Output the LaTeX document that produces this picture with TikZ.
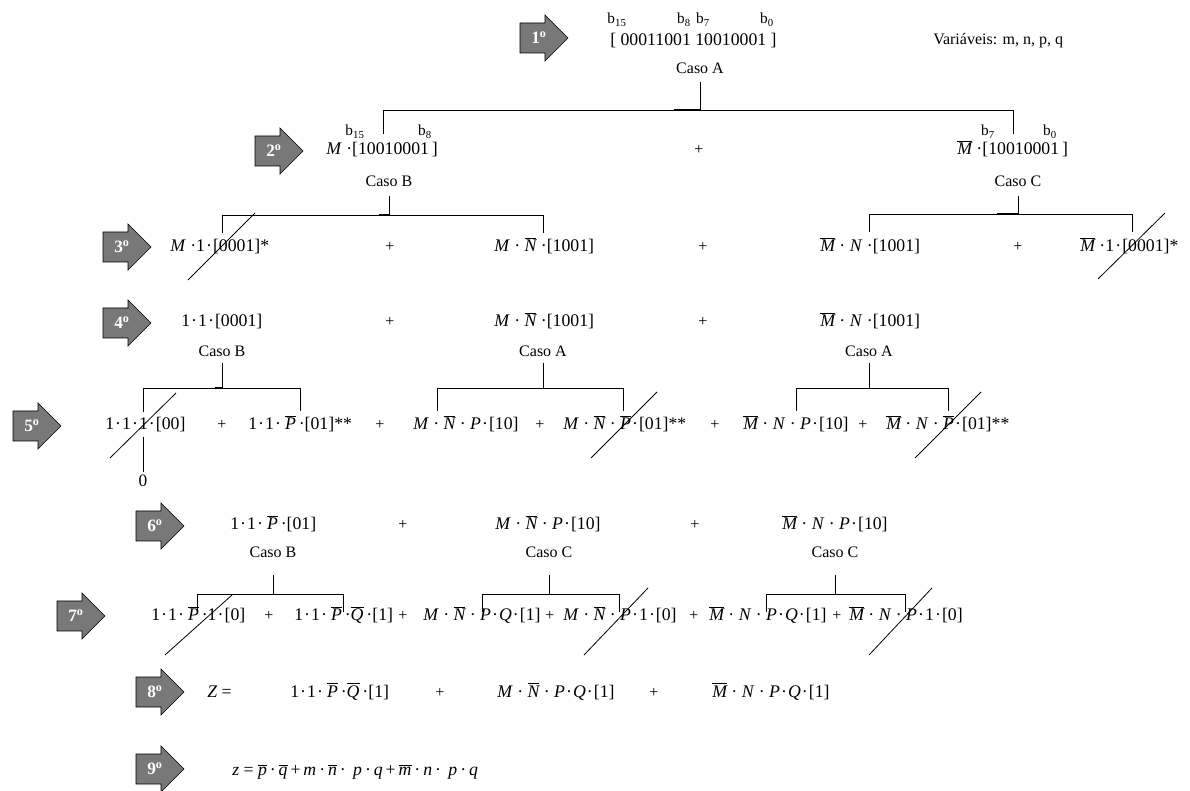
\documentclass[tikz,border=0pt]{standalone}
\usepackage{fontspec}
\setmainfont{Liberation Serif}
\definecolor{arrowgray}{RGB}{120,120,120}
\newcommand{\va}[1]{\textit{#1}}
\newcommand{\ob}[1]{$\overline{\hbox{\itshape #1}}$}
\newcommand{\td}{\kern0.06em·\kern0.06em}
\newcommand{\stepar}[4]{%
  \filldraw[arrowgray, draw=black, line width=0.5pt]
    (#2,#3-15) -- (#2+25,#3-15) -- (#2+25,#3-23) -- (#2+48,#3) -- (#2+25,#3+23) -- (#2+25,#3+15) -- (#2,#3+15) -- cycle;
  \node[steplabel] (#1) at (#2+19,#3) {#4\textsuperscript{o}};}
\tikzset{
  steplabel/.style={inner sep=0, text=white, font=\fontsize{13}{15}\selectfont\bfseries},
  ex/.style={inner sep=0, anchor=base west, font=\fontsize{13.3}{15}\selectfont},
  pl/.style={inner sep=0, anchor=base, font=\fontsize{12}{14}\selectfont},
  caso/.style={inner sep=0, anchor=base, font=\fontsize{12}{14}\selectfont},
  bit/.style={inner sep=0, anchor=base, font=\fontsize{11.5}{13}\selectfont},
  br/.style={line width=0.6pt, black},
  thickbr/.style={line width=1pt, black},
  cut/.style={line width=0.6pt, black}
}
\begin{document}
\begin{tikzpicture}[x=0.75pt, y=-0.75pt]
\useasboundingbox (0,0) rectangle (1190,791);
% step arrows
\stepar{s1}{520}{38}{1}
\stepar{s2}{255}{151}{2}
\stepar{s3}{103}{247}{3}
\stepar{s4}{103}{323}{4}
\stepar{s5}{13}{426}{5}
\stepar{s6}{136}{526}{6}
\stepar{s7}{57}{616}{7}
\stepar{s8}{136}{692}{8}
\stepar{s9}{136}{769}{9}

% row 1
\node[bit] (b15a) at (617,24) {b\textsubscript{15}};
\node[bit] (b8a) at (684,24) {b\textsubscript{8}};
\node[bit] (b7a) at (703,24) {b\textsubscript{7}};
\node[bit] (b0a) at (767,24) {b\textsubscript{0}};
\node[ex] (r1) at (610,46) {[ 00011001 10010001 ]};
\node[ex, font=\fontsize{12}{14}\selectfont] (vars) at (933,45) {Variáveis: m, n, p, q};
\node[caso] (cA1) at (700,74) {Caso A};
\draw[br] (700,82) -- (700,110);
\draw[br] (383,134) |- (1013,110) -- (1013,134);
\draw[thickbr] (674,110) -- (700,110);

% row 2
\node[bit] (b15b) at (355,136) {b\textsubscript{15}};
\node[bit] (b8b) at (425,136) {b\textsubscript{8}};
\node[bit] (b7b) at (988,136) {b\textsubscript{7}};
\node[bit] (b0b) at (1050,136) {b\textsubscript{0}};
\node[ex] (r2a) at (326,155) {\va{M} ·[10010001\,]};
\node[pl] (p2a) at (699,155) {+};
\node[ex] (r2b) at (957,155) {\ob{M} ·[10010001\,]};
\node[caso] (cB2) at (389,187) {Caso B};
\node[caso] (cC2) at (1018,187) {Caso C};
\draw[br] (389,196) -- (389,215);
\draw[br] (222,233) |- (543,215) -- (543,233);
\draw[thickbr] (379,215) -- (389,215);
\draw[br] (1018,196) -- (1018,214);
\draw[br] (869,232) |- (1132,214) -- (1132,232);
\draw[thickbr] (997,214) -- (1018,214);

% row 3
\node[ex] (r3a) at (170,252) {\va{M} ·1\td[0001]*};
\node[pl] (p3a) at (390,252) {+};
\node[ex] (r3b) at (494,252) {\va{M} · \ob{N} ·[1001]};
\node[pl] (p3b) at (703,252) {+};
\node[ex] (r3c) at (820,252) {\ob{M} · \va{N} ·[1001]};
\node[pl] (p3c) at (1018,252) {+};
\node[ex] (r3d) at (1080,252) {\ob{M} ·1\td[0001]*};
\draw[cut] (188,280) -- (255,213);
\draw[cut] (1098,279) -- (1165,213);

% row 4
\node[ex] (r4a) at (181,327) {1\td 1\td[0001]};
\node[pl] (p4a) at (390,327) {+};
\node[ex] (r4b) at (494,327) {\va{M} · \ob{N} ·[1001]};
\node[pl] (p4b) at (703,327) {+};
\node[ex] (r4c) at (820,327) {\ob{M} · \va{N} ·[1001]};
\node[caso] (cB4) at (222,357) {Caso B};
\node[caso] (cA4) at (543,357) {Caso A};
\node[caso] (cA4b) at (869,357) {Caso A};
\draw[br] (222,363) -- (222,388);
\draw[br] (143,412) |- (300,388) -- (300,411);
\draw[thickbr] (215,388) -- (222,388);
\draw[br] (543,363) -- (543,388);
\draw[br] (437,411) |- (623,388) -- (623,411);
\draw[br] (869,363) -- (869,388);
\draw[br] (796,411) |- (948,388) -- (948,411);

% row 5
\node[ex] (r5a) at (105,430) {1\td 1\td 1\td[00]};
\node[pl] (p5a) at (222,430) {+};
\node[ex] (r5b) at (248,430) {1\td 1\td\,\ob{P}\,·[01]**};
\node[pl] (p5b) at (380,430) {+};
\node[ex] (r5c) at (413,430) {\va{M} · \ob{N} · \va{P}\td[10]};
\node[pl] (p5c) at (540,430) {+};
\node[ex] (r5d) at (563,430) {\va{M} · \ob{N} · \ob{P}\td[01]**};
\node[pl] (p5d) at (715,430) {+};
\node[ex] (r5e) at (743,430) {\ob{M} · \va{N} · \va{P}\td[10]};
\node[pl] (p5e) at (863,430) {+};
\node[ex] (r5f) at (886,430) {\ob{M} · \va{N} · \ob{P}\td[01]**};
\draw[cut] (110,458) -- (176,393);
\draw[cut] (591,458) -- (657,392);
\draw[cut] (915,458) -- (981,392);
\draw[br] (143,437) -- (143,472);
\node[pl, font=\fontsize{13}{15}\selectfont] (zero) at (143,487) {0};

% row 6
\node[ex] (r6a) at (230,530) {1\td 1\td\,\ob{P}\,·[01]};
\node[pl] (p6a) at (403,530) {+};
\node[ex] (r6b) at (495,530) {\va{M} · \ob{N} · \va{P}\td[10]};
\node[pl] (p6b) at (695,530) {+};
\node[ex] (r6c) at (782,530) {\ob{M} · \va{N} · \va{P}\td[10]};
\node[caso] (cB6) at (273,558) {Caso B};
\node[caso] (cC6) at (549,558) {Caso C};
\node[caso] (cC6b) at (835,558) {Caso C};
\draw[br] (273,575) -- (273,594);
\draw[br] (197,612) |- (343,594) -- (343,612);
\draw[br] (549,575) -- (549,594);
\draw[br] (482,612) |- (619,594) -- (619,612);
\draw[br] (835,575) -- (835,594);
\draw[br] (766,612) |- (905,594) -- (905,612);

% row 7
\node[ex] (r7a) at (151,621) {1\td 1\td\,\ob{P}\,·1\td[0]};
\node[pl] (p7a) at (269,621) {+};
\node[ex] (r7b) at (294,621) {1\td 1\td\,\ob{P}\,·\ob{Q}\,·[1]};
\node[pl] (p7b) at (403,621) {+};
\node[ex] (r7c) at (423,621) {\va{M} · \ob{N} · \va{P}\td\va{Q}\td[1]};
\node[pl] (p7c) at (550,621) {+};
\node[ex] (r7d) at (563,621) {\va{M} · \ob{N} · \va{P}\td 1\td[0]};
\node[pl] (p7d) at (694,621) {+};
\node[ex] (r7e) at (709,621) {\ob{M} · \va{N} · \va{P}\td\va{Q}\td[1]};
\node[pl] (p7e) at (837,621) {+};
\node[ex] (r7f) at (849,621) {\ob{M} · \va{N} · \va{P}\td 1\td[0]};
\draw[cut] (165,655) -- (232,595);
\draw[cut] (584,655) -- (648,588);
\draw[cut] (869,655) -- (932,588);

% row 8
\node[ex] (r8z) at (207,697) {\va{Z} =};
\node[ex] (r8a) at (290,697) {1\td 1\td\,\ob{P}\,·\ob{Q}\,·[1]};
\node[pl] (p8a) at (440,697) {+};
\node[ex] (r8b) at (497,697) {\va{M} · \ob{N} · \va{P}\td\va{Q}\td[1]};
\node[pl] (p8b) at (654,697) {+};
\node[ex] (r8c) at (712,697) {\ob{M} · \va{N} · \va{P}\td\va{Q}\td[1]};

% row 9
\node[ex] (r9) at (232,775) {\va{z} = \ob{p}\,·\,\ob{q}\,+\,\va{m}\,·\,\ob{n}\,·\, \va{p}\,·\,\va{q}\,+\,\ob{m}\,·\,\va{n}\,·\, \va{p}\,·\,\va{q}};
\end{tikzpicture}
\end{document}
